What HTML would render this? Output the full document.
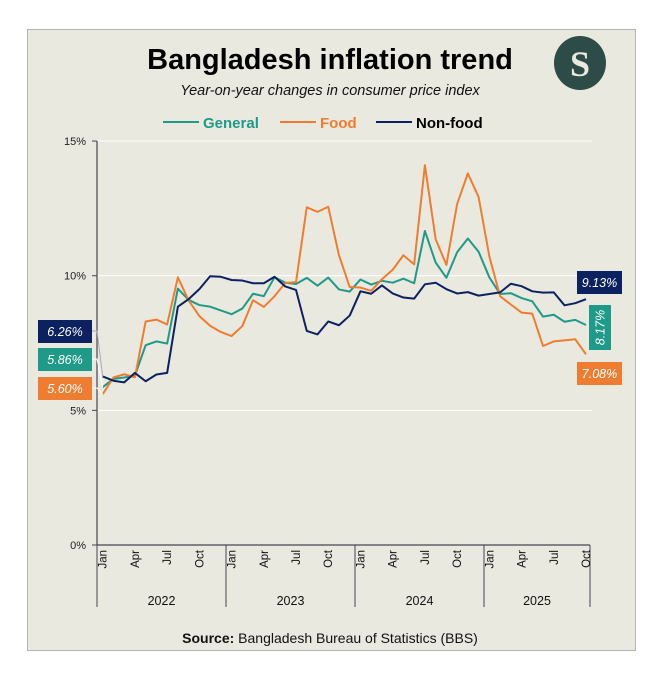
<!DOCTYPE html>
<html><head><meta charset="utf-8"><style>
body{margin:0;background:#fff;width:664px;height:680px;overflow:hidden;font-family:"Liberation Sans",sans-serif}
#frame{position:absolute;left:27px;top:29px;width:607px;height:620px;background:#eae9df;border:1px solid #b4b4b4}
svg{position:absolute;left:0;top:0}
</style></head><body>
<div id="frame"></div>
<svg width="664" height="680" id="chart">
<text x="330" y="69" text-anchor="middle" font-size="29" font-weight="bold" fill="#000">Bangladesh inflation trend</text>
<text x="330" y="95" text-anchor="middle" font-size="14.5" font-style="italic" fill="#111">Year-on-year changes in consumer price index</text>
<g><ellipse cx="580" cy="63" rx="26" ry="27" fill="#2d4b47"/><text x="580" y="76" text-anchor="middle" font-size="36" font-weight="bold" font-family="Liberation Serif,serif" fill="#eae9df">S</text></g>
<g>
<g><line x1="163" y1="122" x2="199" y2="122" stroke="#1f9a88" stroke-width="2"/><text x="203" y="128" font-size="15" font-weight="bold" fill="#1f9a88">General</text></g>
<g><line x1="280" y1="122" x2="316" y2="122" stroke="#ee7d31" stroke-width="2"/><text x="320" y="128" font-size="15" font-weight="bold" fill="#ee7d31">Food</text></g>
<g><line x1="376" y1="122" x2="412" y2="122" stroke="#0c2260" stroke-width="2"/><text x="416" y="128" font-size="15" font-weight="bold" fill="#000">Non-food</text></g>
</g>
<g id="grid"></g><g id="axes"></g><g id="lines"></g><g id="labels"></g>
<text x="330" y="643" text-anchor="middle" font-size="14" fill="#111"><tspan font-weight="bold">Source:</tspan> Bangladesh Bureau of Statistics (BBS)</text>
</svg>
<script>
const years=["2022","2023","2024","2025"];
const monthTicks=["Jan","Apr","Jul","Oct"];
const yTicks=[0,5,10,15];
const general=[5.86,6.17,6.22,6.29,7.42,7.56,7.48,9.52,9.10,8.91,8.85,8.71,8.57,8.78,9.33,9.24,9.94,9.74,9.69,9.92,9.63,9.93,9.49,9.41,9.86,9.67,9.81,9.74,9.89,9.72,11.66,10.49,9.92,10.87,11.38,10.89,9.94,9.32,9.35,9.17,9.05,8.48,8.55,8.29,8.36,8.17];
const food=[5.60,6.22,6.34,6.23,8.30,8.37,8.19,9.94,9.08,8.50,8.14,7.91,7.76,8.13,9.09,8.84,9.24,9.73,9.76,12.54,12.37,12.56,10.76,9.58,9.56,9.44,9.87,10.22,10.76,10.42,14.10,11.36,10.40,12.66,13.80,12.92,10.72,9.24,8.93,8.63,8.59,7.39,7.56,7.60,7.64,7.08];
const nonfood=[6.26,6.10,6.04,6.39,6.08,6.33,6.39,8.85,9.13,9.50,9.98,9.96,9.84,9.82,9.72,9.72,9.96,9.60,9.47,7.95,7.82,8.30,8.16,8.52,9.42,9.33,9.64,9.34,9.19,9.15,9.68,9.74,9.50,9.34,9.39,9.26,9.32,9.38,9.70,9.61,9.42,9.37,9.38,8.90,8.98,9.13];
const NS="http://www.w3.org/2000/svg";
const X=i=>102.7+i*10.74;
const Y=v=>545-v*26.93;
function mk(t,a,p){const e=document.createElementNS(NS,t);for(const k in a)e.setAttribute(k,a[k]);p.appendChild(e);return e;}
const grid=document.getElementById('grid'),axes=document.getElementById('axes'),lines=document.getElementById('lines'),labels=document.getElementById('labels');
yTicks.forEach(v=>{
 if(v>0){const g=mk('line',{x1:97,x2:592,y1:Y(v),y2:Y(v),stroke:'#fff','stroke-width':1},grid);
 
 }
 mk('line',{x1:92,x2:97,y1:Y(v),y2:Y(v),stroke:'#445',"stroke-width":1},axes);
 const t=mk('text',{x:86,y:Y(v)+4,'text-anchor':'end','font-size':11,fill:'#222'},axes);t.textContent=v+'%';
 
 
});
mk('line',{x1:97,x2:97,y1:Y(15),y2:Y(0),stroke:'#445','stroke-width':1.2},axes);
mk('line',{x1:97,x2:590,y1:Y(0),y2:Y(0),stroke:'#445','stroke-width':1.2},axes);
const sep=[97,226,355,484,590];
sep.forEach(x=>mk('line',{x1:x,x2:x,y1:545,y2:607,stroke:'#445','stroke-width':1},axes));
years.forEach((y,k)=>{
 const t=mk('text',{x:(sep[k]+sep[k+1])/2,y:605,'text-anchor':'middle','font-size':12.5,fill:'#111'},axes);t.textContent=y;
 
 
 monthTicks.forEach((m,j)=>{
  const x=X(k*12+j*3)+4;
  const tt=mk('text',{x:x,y:550,'text-anchor':'end','font-size':11.5,fill:'#111',transform:`rotate(-90 ${x} 550)`},axes);tt.textContent=m;
  
  
 });
});
function series(d,c,n){const p=mk('polyline',{points:d.map((v,i)=>X(i)+','+Y(v)).join(' '),fill:'none',stroke:c,'stroke-width':2,'stroke-linejoin':'round'},lines);
 
 }
// connectors
mk('polyline',{points:`92,331 97,331 ${X(0)},${Y(nonfood[0])}`,fill:'none',stroke:'#aaa','stroke-width':1},labels);
mk('polyline',{points:`92,359 97,359 ${X(0)},${Y(general[0])}`,fill:'none',stroke:'#fff','stroke-width':1},labels);
mk('polyline',{points:`92,388 97,388 ${X(0)},${Y(food[0])}`,fill:'none',stroke:'#fff','stroke-width':1},labels);
series(general,'#1f9a88','general-line');
series(food,'#ee7d31','food-line');
series(nonfood,'#0c2260','nonfood-line');
function box(x,y,w,h,c,txt,n,rot){mk('rect',{x:x,y:y,width:w,height:h,fill:c},labels);
 const cx=x+w/2,cy=y+h/2;
 const t=mk('text',{x:cx,y:cy+4.5,'text-anchor':'middle','font-size':12.5,'font-style':'italic',fill:'#fff',transform:rot?`rotate(-90 ${cx} ${cy})`:''},labels);
 t.textContent=txt;
 
 }
box(38,320,54,23,'#0c2260',nonfood[0].toFixed(2)+'%','nonfood-start-label');
box(38,348,54,23,'#1f9a88',general[0].toFixed(2)+'%','general-start-label');
box(38,377,54,23,'#ee7d31',food[0].toFixed(2)+'%','food-start-label');
box(577,271,45,23,'#0c2260',nonfood[45].toFixed(2)+'%','nonfood-end-label');
box(589,305,22,45,'#1f9a88',general[45].toFixed(2)+'%','general-end-label',true);
box(577,362,45,23,'#ee7d31',food[45].toFixed(2)+'%','food-end-label');
</script>
</body></html>
